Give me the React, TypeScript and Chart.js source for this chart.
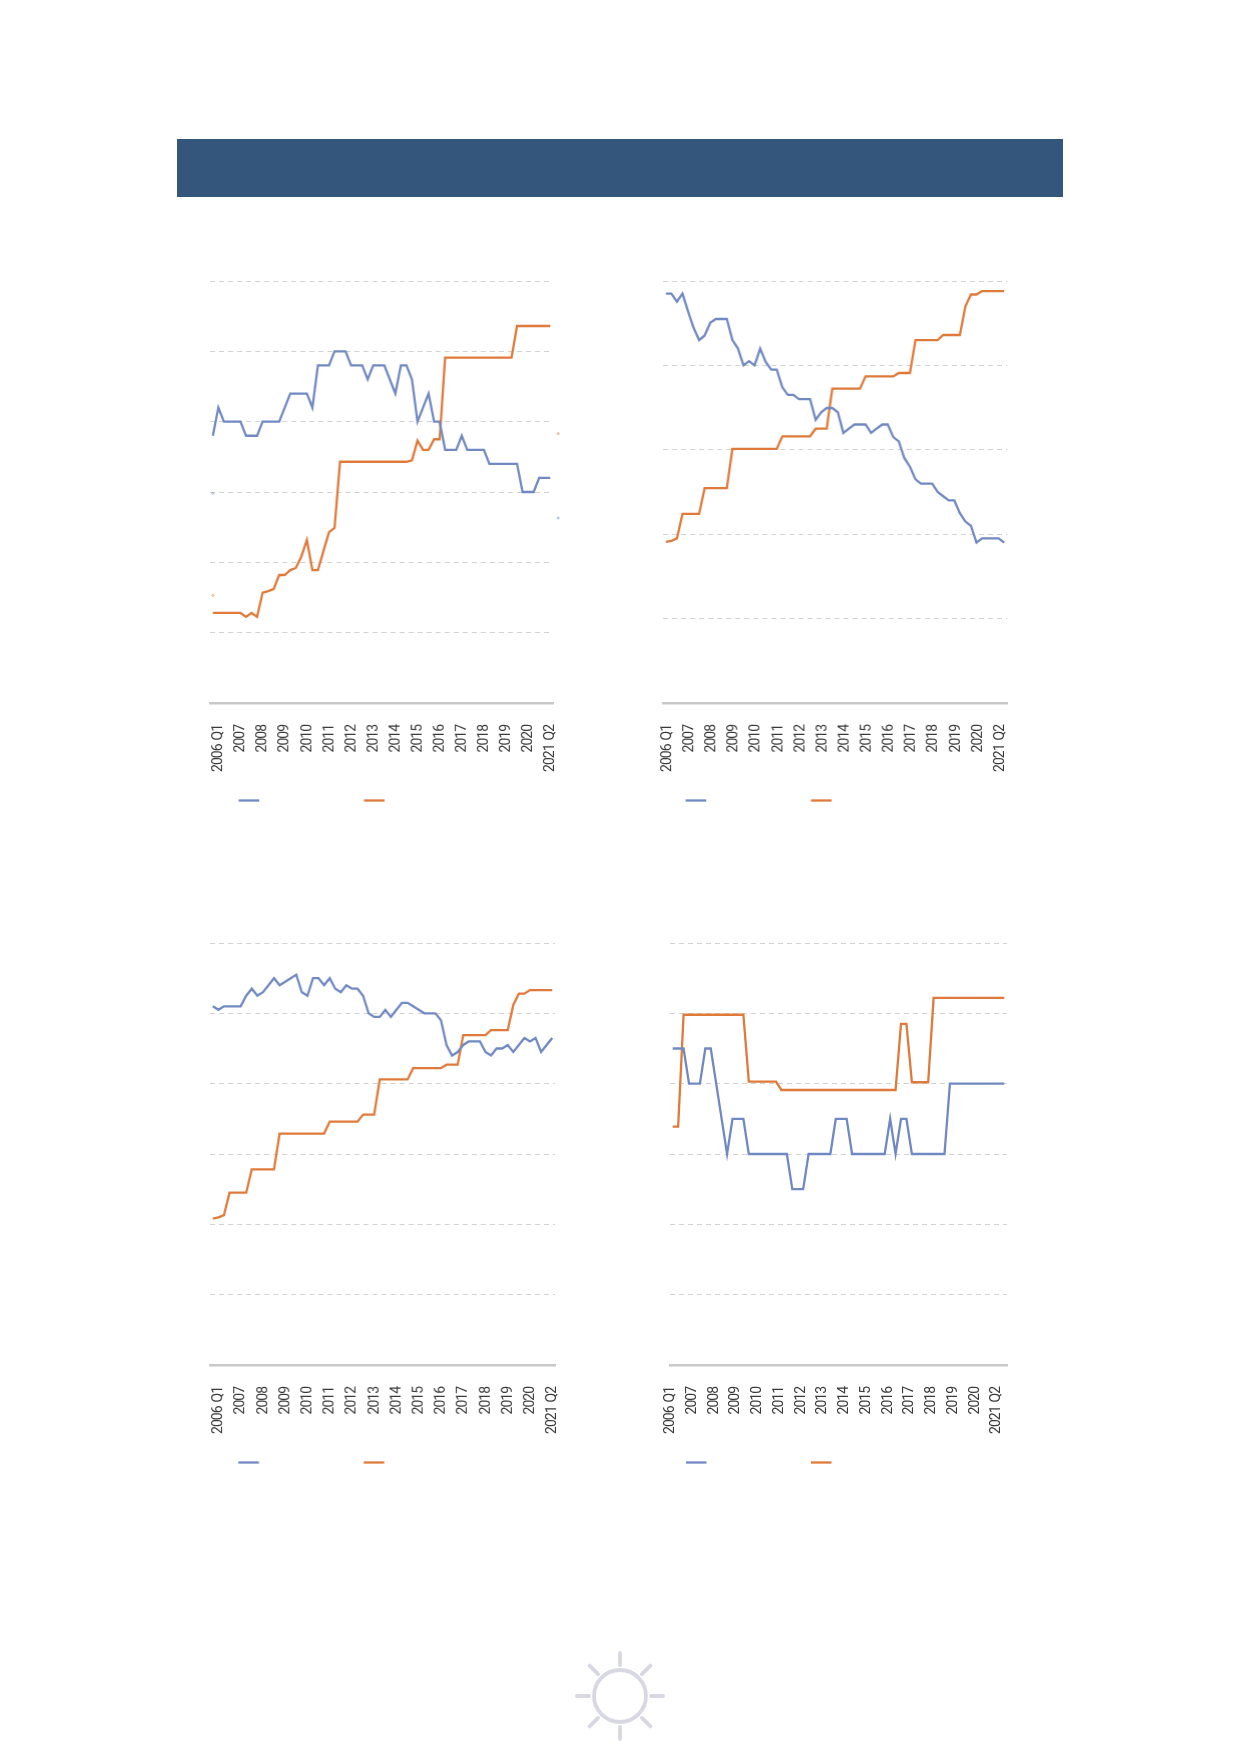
import React, { useEffect, useRef } from "react";
import { Chart, registerables } from "chart.js";

Chart.register(...registerables);

const tickLabels = ["2006 Q1","2007","2008","2009","2010","2011","2012","2013","2014","2015","2016","2017","2018","2019","2020","2021 Q2"];
const categories = Array.from({ length: 62 }, (_, i) => (i % 4 === 0 ? tickLabels[i / 4] : ""));

const chart1Blue = [38,42,40,40,40,40,38,38,38,40,40,40,40,42,44,44,44,44,42,48,48,48,50,50,50,48,48,48,46,48,48,48,46,44,48,48,46,40,42,44,40,40,36,36,36,38,36,36,36,36,34,34,34,34,34,34,30,30,30,32,32,32];
const chart1Orange = [12.8,12.8,12.8,12.8,12.8,12.8,12.25,12.8,12.25,15.7,15.9,16.2,18.2,18.2,18.9,19.2,20.8,23.2,18.9,18.9,21.6,24.3,24.9,34.3,34.3,34.3,34.3,34.3,34.3,34.3,34.3,34.3,34.3,34.3,34.3,34.3,34.5,37.3,36,36,37.5,37.5,49.1,49.1,49.1,49.1,49.1,49.1,49.1,49.1,49.1,49.1,49.1,49.1,49.1,53.6,53.6,53.6,53.6,53.6,53.6,53.6];
const chart2Blue = [97,97,95.1,97,92.8,88.9,86,87.1,90.1,91,91,91,86,84,80,81,80,84,80.8,79,79,74.8,73,73,72,72,72,67.1,68.9,69.9,69.9,68.9,64,65,66,66,66,64,65,66,66,63,62,58,56,53,52,52,52,50,49,48,48,45,43,42,38,39,39,39,39,38];
const chart2Orange = [38.2,38.4,39,44.8,44.8,44.8,44.8,50.9,50.9,50.9,50.9,50.9,60.2,60.2,60.2,60.2,60.2,60.2,60.2,60.2,60.2,63.2,63.2,63.2,63.2,63.2,63.2,65,65,65,74.5,74.5,74.5,74.5,74.5,74.5,77.4,77.4,77.4,77.4,77.4,77.4,78.2,78.2,78.2,86,86,86,86,86,87.2,87.2,87.2,87.2,94,96.8,96.8,97.6,97.6,97.6,97.6,97.6];
const chart3Blue = [51,50.5,51,51,51,51,52.5,53.5,52.5,53,54,55,54,54.5,55,55.5,53,52.5,55,55,54,55,53.5,53,54,53.5,53.5,52.5,50,49.5,49.5,50.5,49.5,50.5,51.5,51.5,51,50.5,50,50,50,49,45.5,44,44.5,45.5,46,46,46,44.5,44,45,45,45.5,44.5,45.5,46.5,46,46.5,44.5,45.5,46.5];
const chart3Orange = [20.8,21,21.3,24.5,24.5,24.5,24.5,27.8,27.8,27.8,27.8,27.8,32.9,32.9,32.9,32.9,32.9,32.9,32.9,32.9,32.9,34.6,34.6,34.6,34.6,34.6,34.6,35.6,35.6,35.6,40.6,40.6,40.6,40.6,40.6,40.6,42.2,42.2,42.2,42.2,42.2,42.2,42.7,42.7,42.7,46.9,46.9,46.9,46.9,46.9,47.6,47.6,47.6,47.6,51.2,52.8,52.8,53.3,53.3,53.3,53.3,53.3];
const chart4Blue = [45,45,45,40,40,40,45,45,40,35,30,35,35,35,30,30,30,30,30,30,30,30,25,25,25,30,30,30,30,30,35,35,35,30,30,30,30,30,30,30,35,30,35,35,30,30,30,30,30,30,30,40,40,40,40,40,40,40,40,40,40,40];
const chart4Orange = [33.9,33.9,49.8,49.8,49.8,49.8,49.8,49.8,49.8,49.8,49.8,49.8,49.8,49.8,40.3,40.3,40.3,40.3,40.3,40.3,39.1,39.1,39.1,39.1,39.1,39.1,39.1,39.1,39.1,39.1,39.1,39.1,39.1,39.1,39.1,39.1,39.1,39.1,39.1,39.1,39.1,39.1,48.5,48.5,40.2,40.2,40.2,40.2,52.2,52.2,52.2,52.2,52.2,52.2,52.2,52.2,52.2,52.2,52.2,52.2,52.2,52.2];

// Tiny remnants of first/last value labels in the first panel: [blue, orange]
const chart1StartMarks = [29.8, 15.3];
const chart1EndMarks = [26.3, 38.3];

const BLUE = "#7189C2";
const ORANGE = "#DF7A3A";

type PanelProps = {
  left: number; right: number; top: number; bottom: number; labelOffset: number;
  max: number; step: number; blue: number[]; orange: number[];
  legendBlue: number; legendOrange: number; legendY: number;
  startMarks?: number[]; endMarks?: number[];
};

function Panel(p: PanelProps) {
  const ref = useRef<HTMLCanvasElement>(null);
  const PAD = 12;
  const cl = p.left - 30;
  const ct = p.top - PAD;
  const cw = p.right - p.left + 50;
  const ch = p.legendY + 10 - ct;
  useEffect(() => {
    const condensedTicks = {
      id: "condensedTicks",
      beforeDraw(chart: any) {
        chart.ctx.letterSpacing = "-1px";
        chart.ctx.wordSpacing = "1.5px";
      },
    };
    const legendLines = {
      id: "legendLines",
      afterDraw(chart: any) {
        const c = chart.ctx;
        const xs = [p.legendBlue - cl, p.legendOrange - cl];
        c.save();
        c.lineWidth = 2.3;
        xs.forEach((x, i) => {
          c.strokeStyle = chart.data.datasets[i].borderColor;
          c.beginPath();
          c.moveTo(x, p.legendY - ct);
          c.lineTo(x + 20.5, p.legendY - ct);
          c.stroke();
        });
        const yS = chart.scales.y;
        const xS = chart.scales.x;
        const ring = (x: number, y: number, col: string) => {
          c.strokeStyle = col;
          c.lineWidth = 0.6;
          c.beginPath();
          c.arc(x, y, 1, 0, Math.PI * 2);
          c.stroke();
        };
        const colors = [BLUE, ORANGE];
        (p.startMarks || []).forEach((v, i) => ring(xS.getPixelForValue(0), yS.getPixelForValue(v), colors[i]));
        (p.endMarks || []).forEach((v, i) => ring(xS.getPixelForValue(61) + 8, yS.getPixelForValue(v), colors[i]));
        c.restore();
      },
    };
    const chart = new Chart(ref.current!, {
      type: "line",
      data: {
        labels: categories,
        datasets: [
          { label: "", data: p.blue, borderColor: BLUE, borderWidth: 2.3, pointRadius: 0, tension: 0, fill: false },
          { label: "", data: p.orange, borderColor: ORANGE, borderWidth: 2.3, pointRadius: 0, tension: 0, fill: false },
        ],
      },
      options: {
        animation: false,
        responsive: false,
        devicePixelRatio: 1,
        layout: { padding: { left: p.left - cl, right: cl + cw - p.right, top: PAD, bottom: 0 } },
        plugins: { legend: { display: false }, title: { display: false }, tooltip: { enabled: false } },
        scales: {
          x: {
            offset: true,
            grid: { display: false, drawTicks: false },
            border: { display: true, color: "#C8C8C8", width: 2.4 },
            afterFit(s: any) {
              s.height = ch - PAD - (p.bottom - p.top);
              s.paddingLeft = 0;
              s.paddingRight = 0;
            },
            ticks: {
              autoSkip: false, minRotation: 90, maxRotation: 90, padding: 22, labelOffset: p.labelOffset,
              color: "#3A3A3A", font: { family: "Roboto, sans-serif", size: 14 },
            },
          },
          y: {
            min: 0, max: p.max,
            afterFit(s: any) { s.width = 0; },
            border: { display: false, dash: [5, 4] },
            grid: {
              drawTicks: false, lineWidth: 1,
              color: (ctx: any) => (ctx.tick && ctx.tick.value === 0 ? "rgba(0,0,0,0)" : "#D2D2D2"),
            },
            ticks: { display: false, stepSize: p.step },
          },
        },
      } as any,
      plugins: [condensedTicks, legendLines],
    });
    return () => chart.destroy();
  }, []);
  return (
    <canvas
      ref={ref}
      width={cw}
      height={ch}
      style={{ position: "absolute", left: cl, top: ct, width: cw, height: ch }}
    />
  );
}

const rays = [0, 45, 90, 135, 180, 225, 270, 315];

export default function App() {
  return (
    <div style={{ position: "absolute", left: 0, top: 0, width: 1239, height: 1752, background: "#fff", overflow: "hidden" }}>
      <div style={{ position: "absolute", left: 177, top: 139, width: 886, height: 58, background: "#34567C" }} />
      <Panel left={210} right={552.5} top={280.5} bottom={703} labelOffset={6} max={60} step={10} blue={chart1Blue} orange={chart1Orange}
        legendBlue={238.5} legendOrange={363.5} legendY={800} startMarks={chart1StartMarks} endMarks={chart1EndMarks} />
      <Panel left={663} right={1006.5} top={280.5} bottom={703} labelOffset={1.6} max={100} step={20} blue={chart2Blue} orange={chart2Orange}
        legendBlue={685.5} legendOrange={810.5} legendY={800} />
      <Panel left={210.3} right={555} top={942.5} bottom={1365} labelOffset={6} max={60} step={10} blue={chart3Blue} orange={chart3Orange}
        legendBlue={238.5} legendOrange={363.5} legendY={1462} />
      <Panel left={669.5} right={1006.5} top={942.5} bottom={1365} labelOffset={-2} max={60} step={10} blue={chart4Blue} orange={chart4Orange}
        legendBlue={685.5} legendOrange={810.5} legendY={1462} />
      <svg style={{ position: "absolute", left: 560, top: 1636, width: 120, height: 120 }} viewBox="0 0 120 120">
        <circle cx="60" cy="60" r="26" fill="none" stroke="#D8D8E3" strokeWidth="3.8" />
        {rays.map((a) => (
          <line key={a} x1="60" y1="17" x2="60" y2="29" stroke="#D8D8E3" strokeWidth="3.8" strokeLinecap="round"
            transform={`rotate(${a} 60 60)`} />
        ))}
      </svg>
    </div>
  );
}
